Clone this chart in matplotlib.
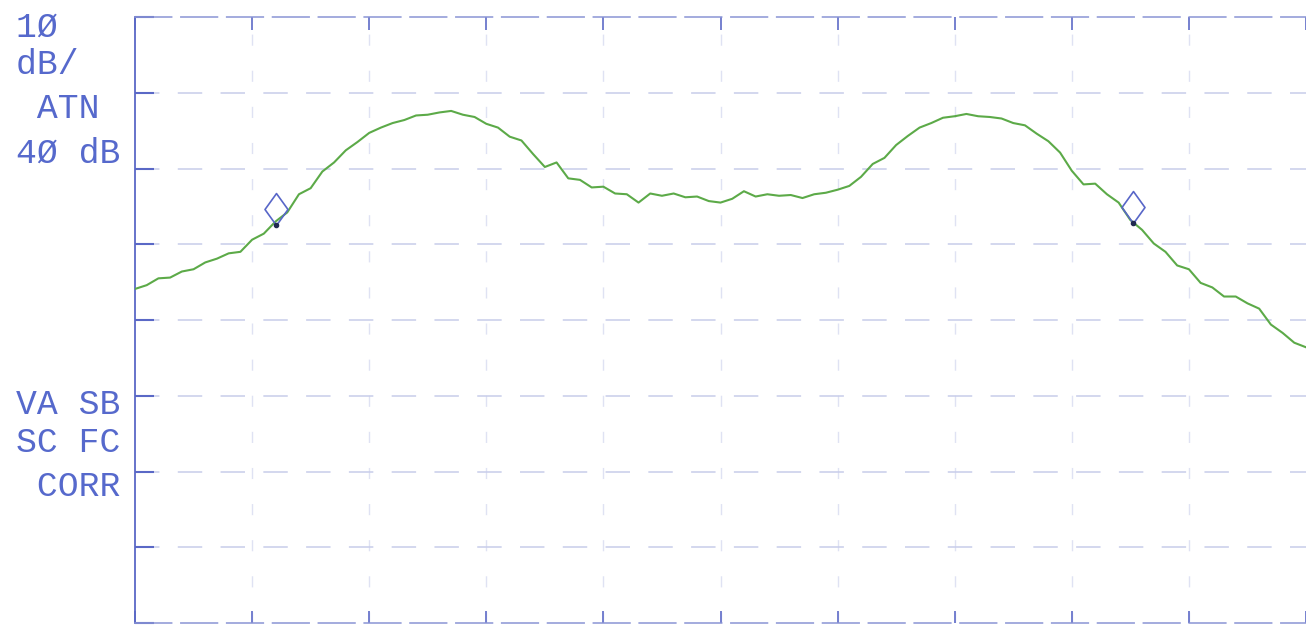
import matplotlib
matplotlib.use("Agg")
import matplotlib.pyplot as plt
from matplotlib.path import Path

# spectrum trace: x in graticule divisions (0..10), amplitude in dB (top line = 0 dB)
trace_div = [i / 10 for i in range(101)]
trace_db = [
    -35.9, -35.4, -34.5, -34.4, -33.6, -33.3, -32.4, -31.9, -31.2, -31.0,
    -29.4, -28.6, -27.0, -25.8, -23.4, -22.6, -20.4, -19.2, -17.6, -16.5,
    -15.3, -14.6, -14.0, -13.6, -13.0, -12.9, -12.6, -12.4, -12.9, -13.2,
    -14.1, -14.6, -15.8, -16.3, -18.1, -19.8, -19.2, -21.3, -21.5, -22.5,
    -22.4, -23.3, -23.4, -24.5, -23.3, -23.6, -23.3, -23.8, -23.7, -24.3,
    -24.5, -24.0, -23.0, -23.7, -23.4, -23.6, -23.5, -23.9, -23.4, -23.2,
    -22.8, -22.3, -21.1, -19.4, -18.6, -16.9, -15.7, -14.6, -14.0, -13.3,
    -13.1, -12.8, -13.1, -13.2, -13.4, -14.0, -14.3, -15.4, -16.4, -17.9,
    -20.3, -22.1, -22.0, -23.4, -24.5, -26.8, -28.1, -29.9, -31.0, -32.8,
    -33.3, -35.1, -35.7, -36.9, -36.9, -37.8, -38.5, -40.6, -41.7, -43.0,
    -43.6,
]

# marker positions on the trace
marker_div = [1.20, 8.52]
marker_db = [-27.5, -27.2]

# annotation block on the left (5-character plotter columns)
upper_labels = ["1Ø   ", "dB/  ", " ATN ", "4Ø dB"]
upper_y_px = [27, 64, 109, 153]
lower_labels = ["VA SB", "SC FC", " CORR"]
lower_y_px = [405, 442, 486]

W, H = 1306, 633
BLUE = "#5669cc"
TRACE = "#5caa48"

fig = plt.figure(figsize=(W / 100, H / 100), dpi=100)
ax = fig.add_axes([135 / W, (H - 623) / H, (W - 135) / W, 606 / H])
ax.set_xlim(0, 10)
ax.set_ylim(-80, 0)

# graticule, faint like the scanned plotter sheet
for xv in range(1, 10):
    ax.axvline(xv, color="#dfe2f3", lw=1.0, ls=(0, (8, 18)), zorder=1)
for yv in range(-70, 0, 10):
    ax.axhline(yv, color="#c8cdea", lw=1.1, ls=(0, (16, 12)), zorder=1)

ax.spines["right"].set_visible(False)
ax.spines["left"].set_color("#5a68c6")
ax.spines["left"].set_linewidth(1.3)
for side in ["top", "bottom"]:
    ax.spines[side].set_color("#8a94d4")
    ax.spines[side].set_linewidth(1.1)
    ax.spines[side].set_linestyle((0, (24, 6)))

ax.set_xticks(range(11))
ax.set_yticks(range(-80, 1, 10))
ax.set_xticklabels([])
ax.set_yticklabels([])
ax.tick_params(axis="y", direction="in", length=14, width=1.5, color="#5a68c6", left=True)
ax.tick_params(axis="x", direction="in", length=9, width=1.3, color="#6a76cc",
               bottom=True, top=True)

# trace
ax.plot(trace_div, trace_db, color=TRACE, lw=1.5, zorder=3)

# diamond markers: bottom vertex (path origin) sits on the trace
diamond = Path([(0, 0), (0.72, 1), (0, 2), (-0.72, 1), (0, 0)],
               [Path.MOVETO, Path.LINETO, Path.LINETO, Path.LINETO, Path.CLOSEPOLY])
ax.plot(marker_div, marker_db, ls="none", marker=diamond, ms=46, mfc="none",
        mec="#5866c8", mew=1.2, zorder=4)
ax.plot(marker_div, marker_db, ls="none", marker="o", ms=3, color="#202a50", zorder=5)

# left annotation text
for lab, yp in zip(upper_labels + lower_labels, upper_y_px + lower_y_px):
    fig.text(16 / W, 1 - yp / H, lab, ha="left", va="center", color=BLUE,
             fontsize=25, family="Liberation Mono")

fig.savefig("out.png", dpi=100, facecolor="white")
